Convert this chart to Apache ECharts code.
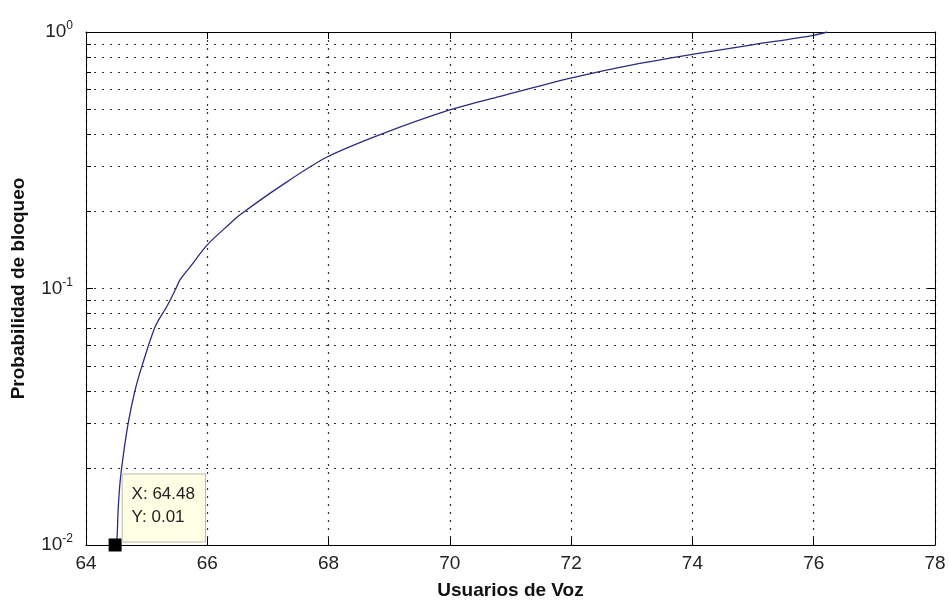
<!DOCTYPE html>
<html>
<head>
<meta charset="utf-8">
<script src="https://cdn.jsdelivr.net/npm/echarts@6/dist/echarts.min.js"></script>
<style>
  html, body { margin: 0; padding: 0; background: #fff; }
  #line_chart { width: 949px; height: 601px; }
</style>
</head>
<body>
<div id="line_chart"></div>
<script>
// curve
const usuarios = [64.48, 64.51, 64.53, 64.56, 64.62, 64.70, 64.81, 64.92, 65.14, 65.33, 65.47, 65.55, 65.72, 66.00, 66.38, 66.53, 67.19, 67.96, 68.85, 70.01, 70.83, 72.01, 73.03, 74.02, 75.01, 76.00, 76.22]
const bloqueo = [0.0100, 0.0106, 0.0137, 0.0174, 0.0228, 0.0303, 0.0402, 0.0496, 0.071, 0.0849, 0.0986, 0.108, 0.1217, 0.148, 0.1796, 0.193, 0.249, 0.324, 0.398, 0.498, 0.561, 0.662, 0.746, 0.820, 0.893, 0.971, 1.0]

// axis ranges
const xMin = 64
const xMax = 78
const xStep = 2
const yMin = 0.01
const yMax = 1

// log minor gridlines (2..9 of each decade)
const minorLevels = [0.02, 0.03, 0.04, 0.05, 0.06, 0.07, 0.08, 0.09, 0.2, 0.3, 0.4, 0.5, 0.6, 0.7, 0.8, 0.9]

// data tip
const tipPoint = [64.48, 0.01]
const tipText = ['X: 64.48', 'Y: 0.01']

const FONT = '"Liberation Sans", Arial, sans-serif'
const gridDot = { color: '#333', width: 1.2, type: [2, 6] }

const myChart = echarts.init(document.getElementById('line_chart'))

const lineData = usuarios.map((x, i) => [x, bloqueo[i]])

const myOption = {
  backgroundColor: '#fff',
  animation: false,
  grid: { left: 86, right: 14, top: 32, bottom: 56, outerBoundsMode: 'none' },

  xAxis: [
    {
      type: 'value',
      min: xMin,
      max: xMax,
      interval: xStep,
      name: 'Usuarios de Voz',
      nameLocation: 'middle',
      nameGap: 36,
      nameTextStyle: { fontFamily: FONT, fontSize: 19, fontWeight: 'bold', color: '#111' },
      axisLine: { onZero: false, lineStyle: { color: '#000', width: 1 } },
      axisTick: { inside: true, length: 7, lineStyle: { color: '#000' } },
      axisLabel: { margin: 9, fontFamily: FONT, fontSize: 19, color: '#222' },
      splitLine: { show: true, lineStyle: gridDot }
    },
    {
      // top box edge
      type: 'value',
      position: 'top',
      min: xMin,
      max: xMax,
      interval: xStep,
      axisLine: { onZero: false, lineStyle: { color: '#000', width: 1 } },
      axisTick: { inside: true, length: 7, lineStyle: { color: '#000' } },
      axisLabel: { show: false },
      splitLine: { show: false }
    }
  ],

  yAxis: [
    {
      type: 'log',
      logBase: 10,
      min: yMin,
      max: yMax,
      name: 'Probabilidad de bloqueo',
      nameLocation: 'middle',
      nameGap: 58,
      nameTextStyle: { fontFamily: FONT, fontSize: 19, fontWeight: 'bold', color: '#111' },
      axisLine: { show: true, onZero: false, lineStyle: { color: '#000', width: 1 } },
      axisTick: { show: true, inside: true, length: 7, lineStyle: { color: '#000' } },
      axisLabel: {
        margin: 13,
        formatter: (v) => '{b|10}{s|' + Math.round(Math.log10(v)) + '}',
        rich: {
          b: { fontFamily: FONT, fontSize: 19, color: '#222' },
          s: { fontFamily: FONT, fontSize: 12, color: '#222', padding: [0, 0, 12, 0] }
        }
      },
      splitLine: { show: true, lineStyle: gridDot }
    },
    {
      // right box edge
      type: 'log',
      logBase: 10,
      min: yMin,
      max: yMax,
      position: 'right',
      axisLine: { show: true, onZero: false, lineStyle: { color: '#000', width: 1 } },
      axisTick: { show: true, inside: true, length: 7, lineStyle: { color: '#000' } },
      axisLabel: { show: false },
      splitLine: { show: false }
    }
  ],

  series: [
    {
      // minor log gridlines with their small ticks on both sides
      type: 'custom',
      silent: true,
      z: 1,
      data: minorLevels.map((v) => [xMin, v]),
      renderItem: (params, api) => {
        const v = api.value(1)
        const l = api.coord([xMin, v])
        const r = api.coord([xMax, v])
        const y = Math.round(l[1]) + 0.5
        return {
          type: 'group',
          children: [
            { type: 'line', shape: { x1: l[0], y1: y, x2: r[0], y2: y }, style: { stroke: '#333', lineWidth: 1.2, lineDash: [2, 6] } },
            { type: 'line', shape: { x1: l[0], y1: y, x2: l[0] + 5, y2: y }, style: { stroke: '#000', lineWidth: 1 } },
            { type: 'line', shape: { x1: r[0] - 5, y1: y, x2: r[0], y2: y }, style: { stroke: '#000', lineWidth: 1 } }
          ]
        }
      }
    },
    {
      name: 'Pb',
      type: 'line',
      z: 3,
      data: lineData,
      showSymbol: false,
      smooth: 0.3,
      lineStyle: { color: '#2b2b80', width: 1.3 },
      markPoint: {
        silent: true,
        symbol: 'rect',
        symbolSize: 13,
        itemStyle: { color: '#000' },
        label: {
          show: true,
          position: [14, -64],
          formatter: tipText.join('\n'),
          fontFamily: FONT,
          fontSize: 17,
          lineHeight: 23,
          color: '#222',
          backgroundColor: '#ffffe6',
          borderColor: '#b8b8b0',
          borderWidth: 1,
          padding: [8, 10, 13, 9]
        },
        data: [{ coord: tipPoint }]
      }
    }
  ]
}
myChart.setOption(myOption)
</script>
</body>
</html>
